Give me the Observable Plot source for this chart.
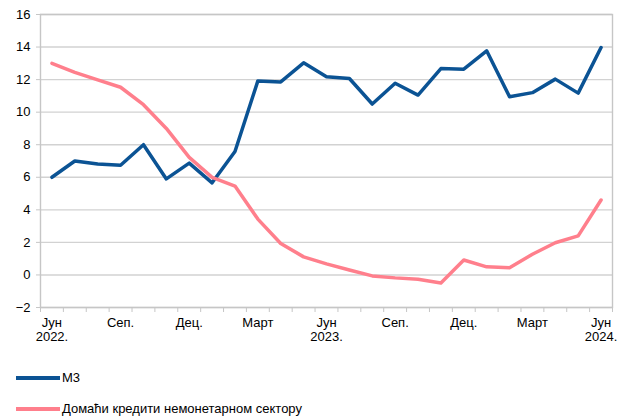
<!DOCTYPE html>
<html>
<head>
<meta charset="utf-8">
<script src="https://cdn.jsdelivr.net/npm/d3@7"></script>
<script src="https://cdn.jsdelivr.net/npm/@observablehq/plot@0.6"></script>
<style>
  html, body { margin: 0; padding: 0; background: #fff; }
  #wrap { position: relative; width: 623px; height: 420px; font-family: "Liberation Sans", Arial, sans-serif; }
  .leg { position: absolute; left: 16px; display: flex; align-items: center; font-size: 13px; line-height: 16px; color: #000; }
  .leg span.sw { display: inline-block; width: 44px; height: 4px; margin-right: 2px; }
</style>
</head>
<body>
<div id="wrap"></div>
<script>
// Categories (monthly, Jun 2022 – Jun 2024)
const months = ["06.2022","07.2022","08.2022","09.2022","10.2022","11.2022","12.2022",
  "01.2023","02.2023","03.2023","04.2023","05.2023","06.2023","07.2023","08.2023","09.2023","10.2023","11.2023","12.2023",
  "01.2024","02.2024","03.2024","04.2024","05.2024","06.2024"];
// Series values (% y/y)
const m3 = [6.0, 7.0, 6.82, 6.74, 8.0, 5.9, 6.87, 5.66, 7.58, 11.92, 11.86, 13.03,
  12.18, 12.07, 10.5, 11.78, 11.05, 12.68, 12.64, 13.77, 10.95, 11.2, 12.03, 11.17, 13.97];
const credit = [13.0, 12.45, 11.98, 11.53, 10.46, 9.0, 7.22, 5.99, 5.46, 3.43, 1.93, 1.11,
  0.68, 0.3, -0.06, -0.18, -0.26, -0.5, 0.92, 0.5, 0.44, 1.27, 1.98, 2.4, 4.6];
// Tick labels
const xTickIdx = [0, 3, 6, 9, 12, 15, 18, 21, 24];
const xTickLabels = ["Јун\n2022.", "Сеп.", "Дец.", "Март", "Јун\n2023.", "Сеп.", "Дец.", "Март", "Јун\n2024."];
const yTicks = [-2, 0, 2, 4, 6, 8, 10, 12, 14, 16];
const seriesNames = ["М3", "Домаћи кредити немонетарном сектору"];
const seriesColors = ["#0b5394", "#ff7f8c"];

const rows = [];
months.forEach((m, i) => {
  rows.push({i, month: m, value: m3[i], series: seriesNames[0]});
  rows.push({i, month: m, value: credit[i], series: seriesNames[1]});
});
const boundaries = d3.range(-0.5, months.length, 1);

const chart = Plot.plot({
  width: 623,
  height: 350,
  marginLeft: 40,
  marginRight: 11,
  marginTop: 14,
  marginBottom: 43,
  style: {fontFamily: "Liberation Sans, Arial, sans-serif", fontSize: "13px", color: "#000", background: "#fff"},
  x: {type: "linear", domain: [-0.5, months.length - 0.5]},
  y: {domain: [-2, 16]},
  color: {domain: seriesNames, range: seriesColors},
  marks: [
    Plot.ruleY(yTicks, {stroke: "#d2d2d2", strokeWidth: 1.4}),
    Plot.frame({stroke: "#c6c6c6", strokeWidth: 1.4}),
    Plot.axisY(yTicks, {tickSize: 4, tickPadding: 6, stroke: "#c6c6c6", label: null, fontSize: 13}),
    Plot.axisX(boundaries, {tickSize: 5, stroke: "#c6c6c6", text: null, label: null}),
    Plot.axisX(xTickIdx, {tickSize: 0, tickPadding: 9, label: null, fontSize: 13, lineHeight: 1.1,
      tickFormat: d => xTickLabels[xTickIdx.indexOf(d)]}),
    Plot.line(rows, {x: "i", y: "value", z: "series", stroke: "series", strokeWidth: 3.5, strokeLinejoin: "round"})
  ]
});
const wrap = document.getElementById("wrap");
wrap.appendChild(chart);

const legendTops = [370, 401];
seriesNames.forEach((name, k) => {
  const d = document.createElement("div");
  d.className = "leg";
  d.style.top = legendTops[k] + "px";
  d.innerHTML = `<span class="sw" style="background:${seriesColors[k]}"></span><span>${name}</span>`;
  wrap.appendChild(d);
});
</script>
</body>
</html>
